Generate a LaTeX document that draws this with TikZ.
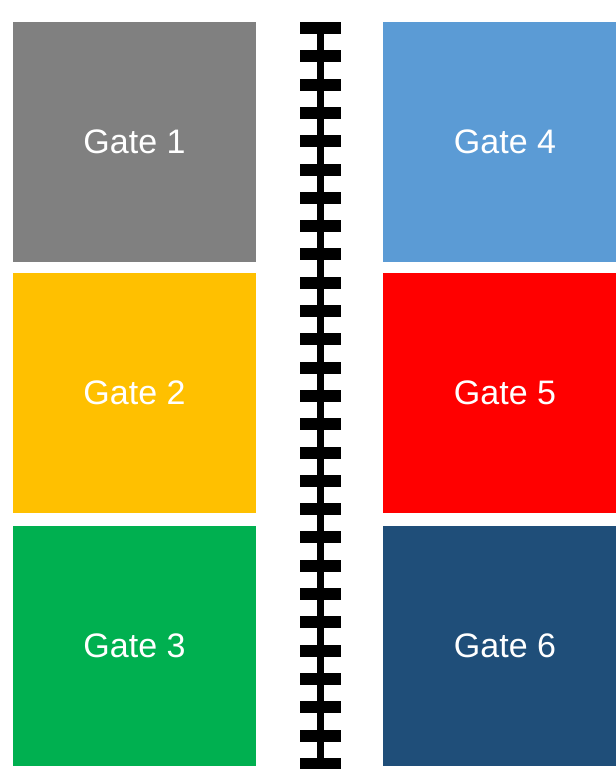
\documentclass[tikz,border=0pt]{standalone}
\usepackage{fontspec}
\setmainfont{Liberation Sans}
\definecolor{gateGray}{HTML}{808080}
\definecolor{gateGold}{HTML}{FFC000}
\definecolor{gateGreen}{HTML}{00B050}
\definecolor{gateBlue}{HTML}{5B9BD5}
\definecolor{gateRed}{HTML}{FF0000}
\definecolor{gateNavy}{HTML}{1F4E79}
\tikzset{
  gatebox/.style={rectangle, inner sep=0pt, text=white,
    font=\fontsize{34}{40}\selectfont},
  leftgate/.style={gatebox, minimum width=243pt, minimum height=240pt},
  rightgate/.style={gatebox, minimum width=244pt, minimum height=240pt}
}
\begin{document}
\begin{tikzpicture}[x=1pt, y=-1pt]
\useasboundingbox (0,0) rectangle (616,769);
\clip (0,0) rectangle (616,769);
% Linke Spalte
\node[leftgate, fill=gateGray]  (g1) at (134.5,141.5) {Gate 1};
\node[leftgate, fill=gateGold]  (g2) at (134.5,393) {Gate 2};
\node[leftgate, fill=gateGreen] (g3) at (134.5,646) {Gate 3};
% Rechte Spalte
\node[rightgate, fill=gateBlue] (g4) at (505,141.5) {Gate 4};
\node[rightgate, fill=gateRed]  (g5) at (505,393) {Gate 5};
\node[rightgate, fill=gateNavy] (g6) at (505,646) {Gate 6};
% Reissverschluss
\fill[black] (317,22) rectangle (324,769);
\foreach \k in {0,...,26}
  \fill[black] (300,22+28.3*\k) rectangle (341,34+28.3*\k);
\end{tikzpicture}
\end{document}
